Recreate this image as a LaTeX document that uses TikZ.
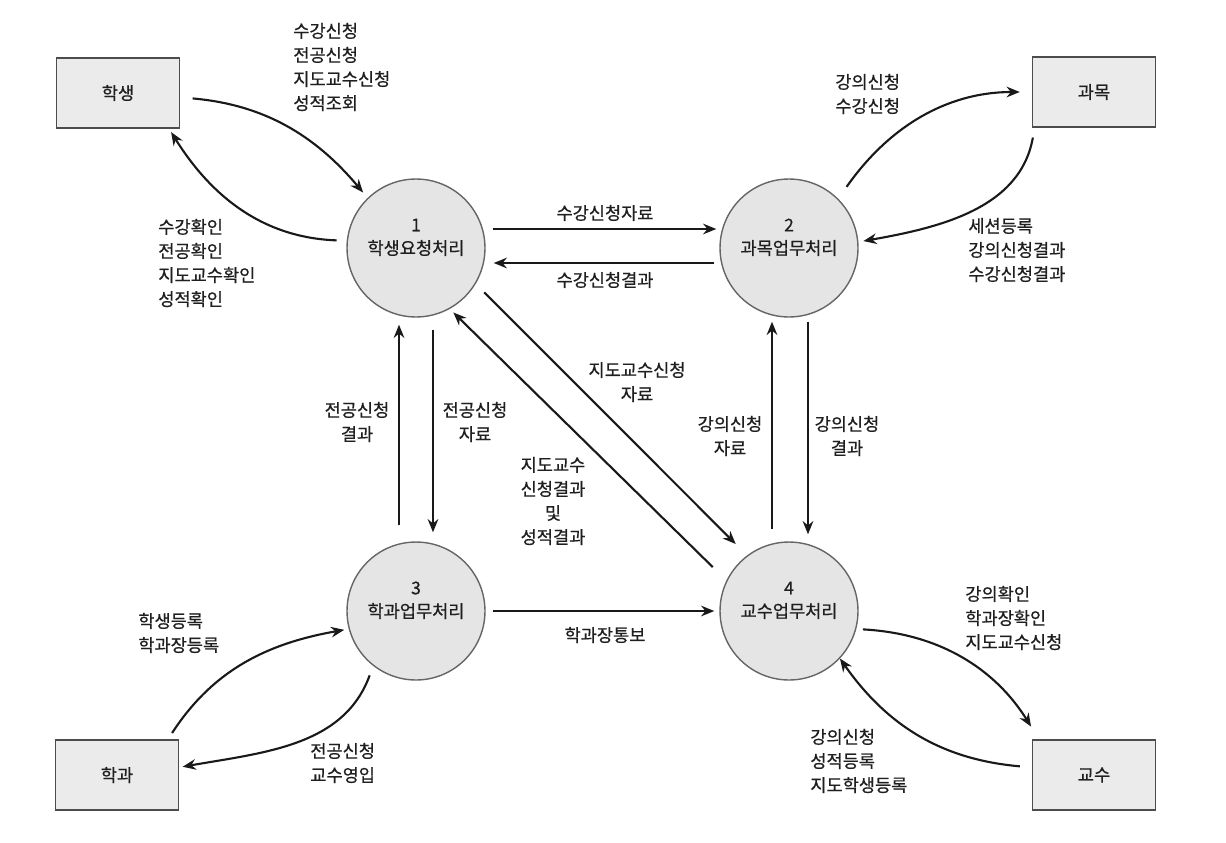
\documentclass[tikz,border=0pt]{standalone}
\usepackage{fontspec}
\setmainfont{Noto Sans CJK KR}[FakeBold=0.6]
\usetikzlibrary{arrows.meta}

\begin{document}
\begin{tikzpicture}[x=0.02cm, y=0.02cm,
  every node/.style={font=\fontsize{10}{13.7}\selectfont, text=black!88},
  ext/.style={draw=black!70, fill=black!8, line width=0.8pt, minimum width=2.46cm,
              minimum height=1.4cm},
  proc/.style={circle, draw=black!60, fill=black!10, line width=0.8pt,
               minimum size=2.76cm, inner sep=0pt},
  num/.style={inner sep=0pt},
  flow/.style={-{Stealth[length=7.5pt, width=6pt]}, line width=1.2pt, black!90},
  lab/.style={inner sep=0pt, align=left}]
  \useasboundingbox (0,0) rectangle (1226,-842);
  % external entities
  \node[ext] (stu) at (118,-93) {학생};
  \node[ext] (sub) at (1094,-92) {과목};
  \node[ext] (dep) at (117,-775) {학과};
  \node[ext] (prof) at (1094,-775) {교수};
  % processes
  \node[proc] (p1) at (416,-248) {학생요청처리};
  \node[proc] (p2) at (789,-248) {과목업무처리};
  \node[proc] (p3) at (416,-611) {학과업무처리};
  \node[proc] (p4) at (789,-611) {교수업무처리};
  \node[num] (n1) at ([yshift=0.46cm]p1.center) {1};
  \node[num] (n2) at ([yshift=0.46cm]p2.center) {2};
  \node[num] (n3) at ([yshift=0.46cm]p3.center) {3};
  \node[num] (n4) at ([yshift=0.46cm]p4.center) {4};

  % student <-> 1
  \draw[flow, shorten <=2.5mm, shorten >=1.4mm] (stu.-4) to[out=-5, in=130] (p1.134);
  \draw[flow, shorten <=2mm, shorten >=0.8mm] (p1.174) to[out=178, in=-58] (stu.-35);
  \node[lab, anchor=west] (l-stu-in) at (293,-67) {수강신청\\전공신청\\지도교수신청\\성적조회};
  \node[lab, anchor=west] (l-stu-out) at (158,-263) {수강확인\\전공확인\\지도교수확인\\성적확인};
  % subject <-> 2
  \draw[flow, shorten <=2.9mm, shorten >=2.4mm] (p2.45) to[out=55, in=180] (sub.west);
  \draw[flow, shorten <=2mm, shorten >=1mm] (sub.-149) to[out=-100, in=10] (p2.5);
  \node[lab, anchor=west] (l-sub-in) at (835,-94) {강의신청\\수강신청};
  \node[lab, anchor=west] (l-sub-out) at (968,-250) {세션등록\\강의신청결과\\수강신청결과};
  % department <-> 3
  \draw[flow, shorten <=1.5mm, shorten >=0.9mm] (dep.35) to[out=57, in=190] (p3.195);
  \draw[flow, shorten <=2mm, shorten >=0.7mm] (p3.-128) to[out=-110, in=10] (dep.7);
  \node[lab, anchor=west] (l-dep-in) at (138,-633) {학생등록\\학과장등록};
  \node[lab, anchor=west] (l-dep-out) at (310,-763) {전공신청\\교수영입};
  % professor <-> 4
  \draw[flow, shorten <=1.3mm, shorten >=3mm] (p4.-15) to[out=-3, in=122] (prof.147);
  \draw[flow, shorten <=2.4mm] (prof.173) to[out=175, in=-55] (p4.-43);
  \node[lab, anchor=west] (l-prof-in) at (965,-618) {강의확인\\학과장확인\\지도교수신청};
  \node[lab, anchor=west] (l-prof-out) at (810,-761) {강의신청\\성적등록\\지도학생등록};

  % between processes
  \draw[flow, shorten <=1.4mm, shorten >=0.6mm] ([yshift=0.38cm]p1.east) -- ([yshift=0.38cm]p2.west);
  \draw[flow, shorten <=1mm, shorten >=1.6mm] ([yshift=-0.3cm]p2.west) -- ([yshift=-0.3cm]p1.east);
  \node[lab] (l12) at (605,-213) {수강신청자료};
  \node[lab] (l21) at (605,-280) {수강신청결과};
  \draw[flow, shorten <=3.2mm, shorten >=1.4mm] ([xshift=-0.34cm]p3.north) -- ([xshift=-0.34cm]p1.south);
  \draw[flow, shorten <=2.4mm, shorten >=1.8mm] ([xshift=0.34cm]p1.south) -- ([xshift=0.34cm]p3.north);
  \node[lab, align=center] (l31) at (357,-422) {전공신청\\결과};
  \node[lab, align=center] (l13) at (475,-422) {전공신청\\자료};
  \draw[flow, shorten <=2.4mm, shorten >=0.8mm] ([xshift=-0.34cm]p4.north) -- ([xshift=-0.34cm]p2.south);
  \draw[flow, shorten <=0.8mm, shorten >=1.4mm] ([xshift=0.38cm]p2.south) -- ([xshift=0.38cm]p4.north);
  \node[lab, align=center] (l42) at (730,-436) {강의신청\\자료};
  \node[lab, align=center] (l24) at (847,-436) {강의신청\\결과};
  \draw[flow, shorten <=2.4mm, shorten >=3.2mm] (p1.-31) -- (p4.127);
  \draw[flow, shorten <=3.8mm, shorten >=1mm] (p4.154) -- (p1.-61);
  \node[lab, align=center] (l14) at (637,-382) {지도교수신청\\자료};
  \node[lab, align=center] (l41) at (553,-501) {지도교수\\신청결과\\및\\성적결과};
  \draw[flow, shorten <=1.4mm, shorten >=1mm] (p3) -- (p4);
  \node[lab] (l34) at (605,-635) {학과장통보};
\end{tikzpicture}
\end{document}
